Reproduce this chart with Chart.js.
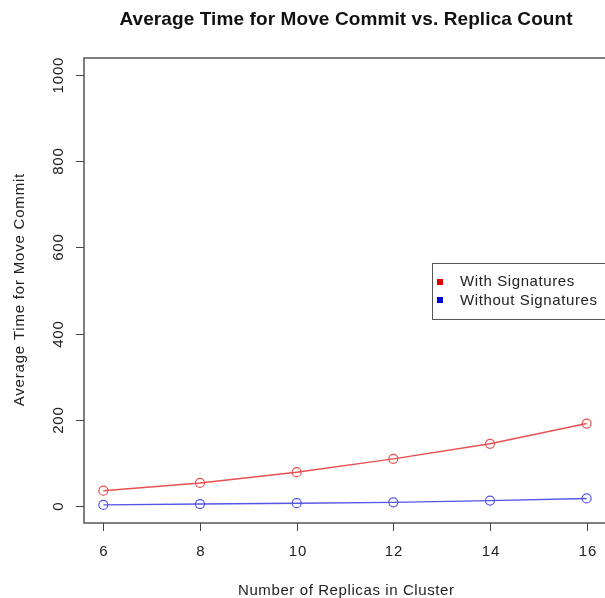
<!DOCTYPE html>
<html>
<head>
<meta charset="utf-8">
<script src="https://cdn.jsdelivr.net/npm/chart.js@4.4.0/dist/chart.umd.min.js"></script>
<style>
  html, body { margin: 0; padding: 0; background: #fff; }
  canvas { display: block; }
</style>
</head>
<body>
<canvas id="moveChart" width="605" height="598"></canvas>
<script>
var replicas = [6, 8, 10, 12, 14, 16];
var withSignatures = [35, 53, 78, 109, 144, 191];
var withoutSignatures = [2, 4, 6, 8, 12, 17];
var xTicks = [6, 8, 10, 12, 14, 16];
var yTicks = [0, 200, 400, 600, 800, 1000];

var FONT = '"Liberation Sans", Arial, Helvetica, sans-serif';

function toPoints(xs, ys) {
    return xs.map(function (x, i) { return { x: x, y: ys[i] }; });
}

// text with letter spacing, centred without the trailing gap
function spacedText(ctx, text, x, y, spacing) {
    ctx.letterSpacing = spacing + 'px';
    var shift = ctx.textAlign === 'center' ? spacing / 2 : 0;
    ctx.fillText(text, x + shift, y);
    ctx.letterSpacing = '0px';
}

// R style frame, axes, titles and legend
var rStyle = {
    id: 'rStyle',
    afterDraw: function (chart) {
        var ctx = chart.ctx;
        var a = chart.chartArea;
        var xs = chart.scales.x;
        var ys = chart.scales.y;
        ctx.save();

        // frame (right side falls just outside the canvas)
        ctx.strokeStyle = '#555';
        ctx.lineWidth = 1.5;
        ctx.beginPath();
        ctx.moveTo(a.right + 3, a.top);
        ctx.lineTo(a.left, a.top);
        ctx.lineTo(a.left, a.bottom);
        ctx.lineTo(a.right + 3, a.bottom);
        ctx.stroke();

        ctx.fillStyle = '#222';
        ctx.strokeStyle = '#444';
        ctx.lineWidth = 1;
        ctx.font = '15px ' + FONT;

        // x axis
        ctx.textAlign = 'center';
        ctx.textBaseline = 'middle';
        xTicks.forEach(function (v) {
            var px = Math.round(xs.getPixelForValue(v)) + 0.5;
            ctx.beginPath();
            ctx.moveTo(px, a.bottom);
            ctx.lineTo(px, a.bottom + 8);
            ctx.stroke();
            spacedText(ctx, String(v), px, 552, 0.8);
        });

        // y axis, labels parallel to the axis
        yTicks.forEach(function (v) {
            var py = Math.round(ys.getPixelForValue(v)) + 0.5;
            ctx.beginPath();
            ctx.moveTo(a.left, py);
            ctx.lineTo(a.left - 8, py);
            ctx.stroke();
            ctx.save();
            ctx.translate(59, py);
            ctx.rotate(-Math.PI / 2);
            spacedText(ctx, String(v), 0, 0, 0.8);
            ctx.restore();
        });

        // titles
        ctx.font = 'bold 19px ' + FONT;
        ctx.fillStyle = '#111';
        spacedText(ctx, 'Average Time for Move Commit vs. Replica Count', 346, 20, 0.1);

        ctx.font = '15px ' + FONT;
        ctx.fillStyle = '#222';
        spacedText(ctx, 'Number of Replicas in Cluster', 346, 591, 0.6);

        ctx.save();
        ctx.translate(20, 290);
        ctx.rotate(-Math.PI / 2);
        spacedText(ctx, 'Average Time for Move Commit', 0, 0, 0.8);
        ctx.restore();

        // legend
        ctx.fillStyle = '#fff';
        ctx.fillRect(432, 263, 180, 56);
        ctx.strokeStyle = '#555';
        ctx.strokeRect(432.5, 263.5, 180, 56);
        ctx.fillStyle = '#dd0000';
        ctx.fillRect(437, 279, 6, 6);
        ctx.fillStyle = '#0000dd';
        ctx.fillRect(437, 297, 6, 6);
        ctx.fillStyle = '#222';
        ctx.textAlign = 'left';
        spacedText(ctx, 'With Signatures', 460, 282, 0.6);
        spacedText(ctx, 'Without Signatures', 460, 301, 0.6);

        ctx.restore();
    }
};

var moveChart = new Chart(document.getElementById('moveChart').getContext('2d'), {
    type: 'line',
    data: {
        datasets: [{
            label: 'With Signatures',
            data: toPoints(replicas, withSignatures),
            borderColor: 'rgba(232,80,80,1)',
            borderWidth: 1.4,
            pointRadius: 4.5,
            pointBorderWidth: 1.2,
            pointBackgroundColor: 'rgba(0,0,0,0)',
            pointBorderColor: 'rgba(232,80,80,1)',
            tension: 0,
            fill: false
        }, {
            label: 'Without Signatures',
            data: toPoints(replicas, withoutSignatures),
            borderColor: 'rgba(85,85,230,1)',
            borderWidth: 1.4,
            pointRadius: 4.5,
            pointBorderWidth: 1.2,
            pointBackgroundColor: 'rgba(0,0,0,0)',
            pointBorderColor: 'rgba(85,85,230,1)',
            tension: 0,
            fill: false
        }]
    },
    options: {
        responsive: false,
        animation: false,
        clip: false,
        layout: {
            autoPadding: false,
            padding: { left: 84, right: 0, top: 58, bottom: 75 }
        },
        plugins: {
            legend: { display: false },
            title: { display: false },
            tooltip: { enabled: false }
        },
        scales: {
            x: { type: 'linear', min: 5.6, max: 16.38, display: false },
            y: { min: -40, max: 1040, display: false }
        }
    },
    plugins: [rStyle]
});
</script>
</body>
</html>
